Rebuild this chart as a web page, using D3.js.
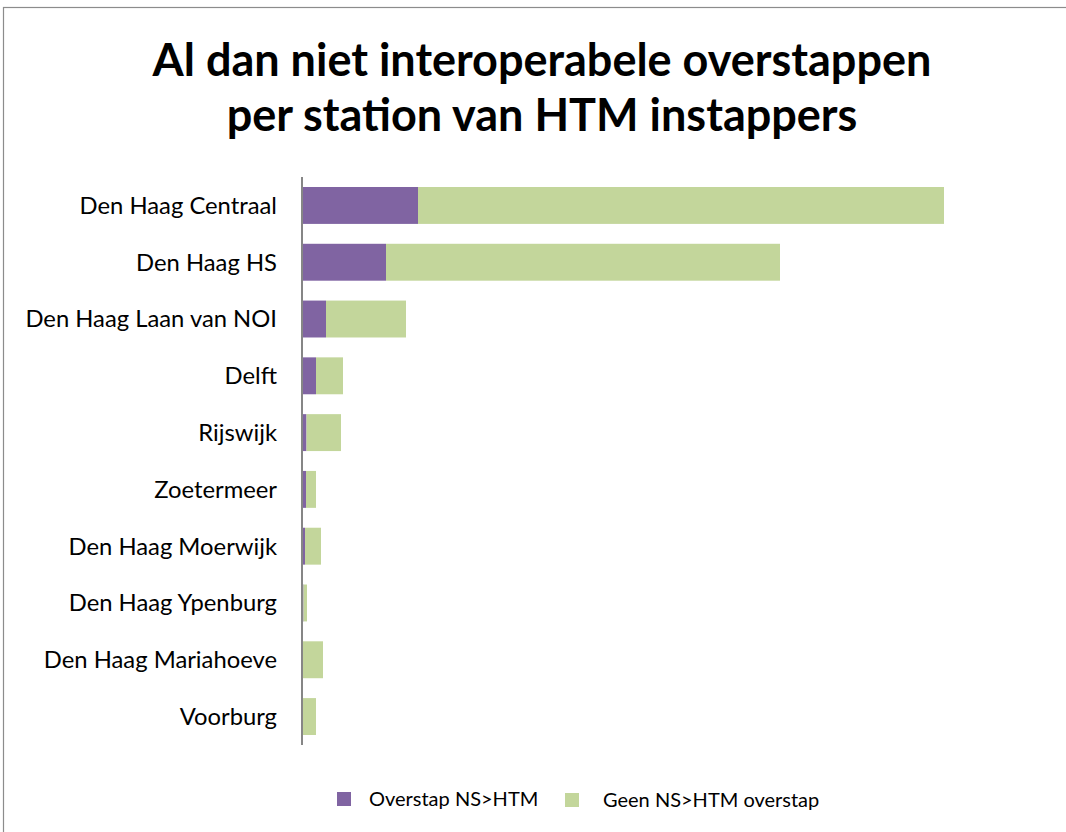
<!DOCTYPE html>
<html>
<head>
<meta charset="utf-8">
<script src="https://cdn.jsdelivr.net/npm/d3@7"></script>
<style>
  body { margin: 0; background: #fff; }
  text { font-family: Lato, "Open Sans", sans-serif; fill: #000; }
</style>
</head>
<body>
<div id="chart"></div>
<script>
var width = 1066;
var height = 832;

// data
var stations = ["Den Haag Centraal", "Den Haag HS", "Den Haag Laan van NOI", "Delft", "Rijswijk",
  "Zoetermeer", "Den Haag Moerwijk", "Den Haag Ypenburg", "Den Haag Mariahoeve", "Voorburg"];
var overstap = [116, 84, 24, 14, 4.5, 4, 3, 1.5, 0.5, 0.5];
var geenOverstap = [526, 394, 80, 27, 34.5, 10, 16, 3.5, 20.5, 13.5];
var seriesNames = ["Overstap NS>HTM", "Geen NS>HTM overstap"];
var colors = ["#8064A2", "#C3D69B"];
var titleLines = ["Al dan niet interoperabele overstappen", "per station van HTM instappers"];

var rows = stations.map(function(s, i) {
  return { station: s, a: overstap[i], b: geenOverstap[i] };
});

var svg = d3.select("#chart")
  .append("svg")
  .attr("width", width)
  .attr("height", height);

// outer border (chart area frame)
svg.append("rect")
  .attr("x", 3.5).attr("y", 7.5)
  .attr("width", 1100).attr("height", 900)
  .style("fill", "none")
  .style("stroke", "#8c8c8c")
  .style("stroke-width", 1.2);

// title
svg.selectAll(".title")
  .data(titleLines)
  .enter().append("text")
  .attr("class", "title")
  .attr("x", 542)
  .attr("y", function(d, i) { return 76 + i * 55; })
  .attr("text-anchor", "middle")
  .style("font-size", "45px")
  .style("font-weight", "bold")
  .text(function(d) { return d; });

// scales
var x0 = 302;
var x = d3.scaleLinear().domain([0, 700]).range([x0, x0 + 700]);
var y = d3.scaleBand().domain(stations).range([177, 745])
  .paddingInner(0.35).paddingOuter(0.176);

var stack = d3.stack().keys(["a", "b"]);
var series = stack(rows);

svg.append("g")
  .selectAll("g")
  .data(series)
  .enter().append("g")
  .style("fill", function(d, i) { return colors[i]; })
  .selectAll("rect")
  .data(function(d) { return d; })
  .enter().append("rect")
  .attr("x", function(d) { return x(d[0]); })
  .attr("y", function(d) { return y(d.data.station); })
  .attr("width", function(d) { return x(d[1]) - x(d[0]); })
  .attr("height", y.bandwidth());

// category labels
svg.selectAll(".cat")
  .data(stations)
  .enter().append("text")
  .attr("class", "cat")
  .attr("x", 277)
  .attr("y", function(d) { return y(d) + y.bandwidth() / 2; })
  .attr("dy", "0.35em")
  .attr("text-anchor", "end")
  .style("font-size", "23.8px")
  .text(function(d) { return d; });

// vertical axis line
svg.append("line")
  .attr("x1", x0).attr("x2", x0)
  .attr("y1", 177).attr("y2", 745)
  .style("stroke", "#868686")
  .style("stroke-width", 2);

// legend
var legendX = [337, 565];
var legend = svg.selectAll(".legend")
  .data(seriesNames)
  .enter().append("g")
  .attr("class", "legend")
  .attr("transform", function(d, i) { return "translate(" + legendX[i] + "," + (792 + i) + ")"; });

legend.append("rect")
  .attr("width", 14).attr("height", 14)
  .style("fill", function(d, i) { return colors[i]; });

legend.append("text")
  .attr("x", function(d, i) { return i === 0 ? 32 : 38; })
  .attr("y", 7)
  .attr("dy", "0.35em")
  .style("font-size", "20px")
  .text(function(d) { return d; });
</script>
</body>
</html>
